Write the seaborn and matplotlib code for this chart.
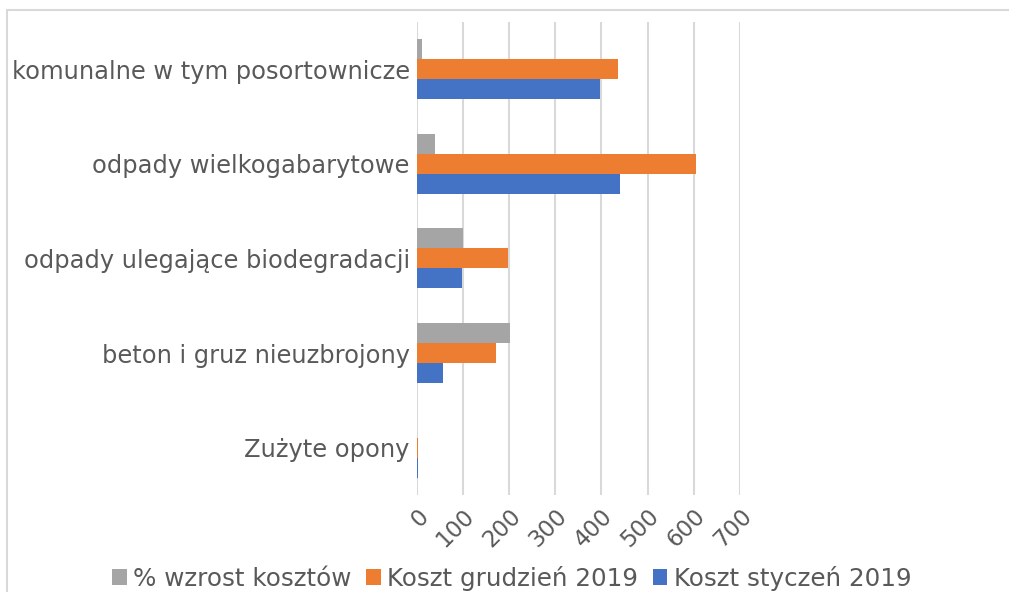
import matplotlib
matplotlib.use("Agg")
import matplotlib.pyplot as plt
import seaborn as sns
import pandas as pd
from matplotlib.patches import Rectangle

categories = ["komunalne w tym posortownicze", "odpady wielkogabarytowe",
              "odpady ulegające biodegradacji", "beton i gruz nieuzbrojony",
              "Zużyte opony"]
series_names = ["% wzrost kosztów", "Koszt grudzień 2019", "Koszt styczeń 2019"]
wzrost = [12, 40, 101, 203, 0]
grudzien = [437, 605, 198, 172, 2]
styczen = [398, 440, 98, 57, 2]
xticks = [0, 100, 200, 300, 400, 500, 600, 700]
colors = ["#a5a5a5", "#ed7d31", "#4472c4"]

rows = []
for name, vals in zip(series_names, [wzrost, grudzien, styczen]):
    for c, v in zip(categories, vals):
        rows.append({"cat": c, "series": name, "val": v})
df = pd.DataFrame(rows)

sns.set_theme(style="white")
plt.rcParams['font.family'] = ['DejaVu Sans']
text_color = "#595959"

fig = plt.figure(figsize=(10.09, 5.92), dpi=100)
ax = fig.add_axes([0.413, 0.164, 0.3203, 0.799])

sns.barplot(data=df, y="cat", x="val", hue="series", order=categories,
            hue_order=series_names, palette=colors, orient="h",
            width=0.634, saturation=1, linewidth=0, ax=ax, legend=True)

ax.set_xlim(0, 700)
ax.set_xticks(xticks)
ax.set_xticklabels([str(t) for t in xticks], rotation=45, ha="right",
                   rotation_mode="anchor", fontsize=16.5, color=text_color)
ax.tick_params(axis="x", length=0, pad=7)
ax.tick_params(axis="y", length=0, pad=5, labelsize=17.4, labelcolor=text_color)
ax.set_xlabel("")
ax.set_ylabel("")
ax.grid(axis="x", color="#d9d9d9", linewidth=1.5)
ax.grid(axis="y", visible=False)
ax.set_axisbelow(True)
for s in ax.spines.values():
    s.set_visible(False)

handles, labels = ax.get_legend_handles_labels()
ax.get_legend().remove()
fig.legend(handles, labels, loc="center", bbox_to_anchor=(0.507, 0.023),
           ncol=3, frameon=False, fontsize=17.7, labelcolor=text_color,
           handlelength=0.6, handleheight=0.6, handletextpad=0.25,
           columnspacing=0.6)

fig.patches.append(Rectangle((0.0074, -0.1), 1.2, 1.083,
                             transform=fig.transFigure, fill=False,
                             edgecolor="#d9d9d9", linewidth=1.5))

fig.savefig("out.png", dpi=100)
